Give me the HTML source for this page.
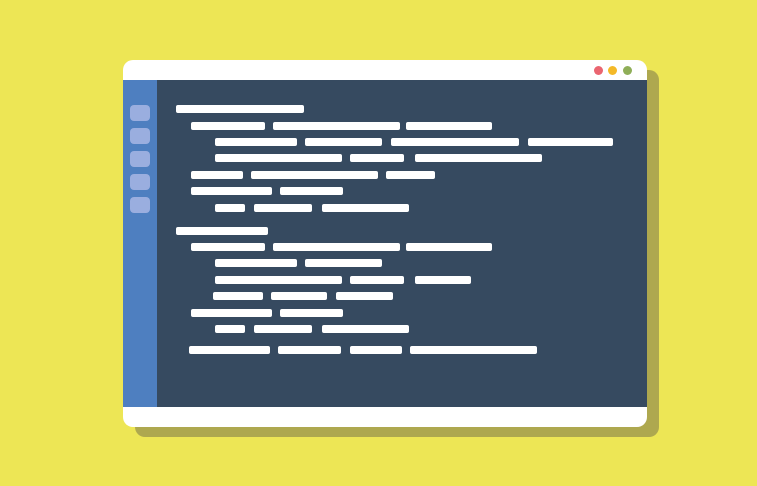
<!DOCTYPE html>
<html><head><style>
html,body{margin:0;padding:0;width:757px;height:486px;overflow:hidden;background:#ede655;}
div{position:absolute;}
.b{height:8px;background:#fff;border-radius:2px;}
.s{left:130px;width:20px;height:16px;background:#9aaedf;border-radius:4px;}
.d{width:9px;height:9px;border-radius:50%;top:66px;}
</style></head><body>
<div style="left:135px;top:70px;width:524px;height:367px;background:#aea84f;border-radius:10px;"></div>
<div style="left:123px;top:60px;width:524px;height:367px;background:#fff;border-radius:10px;overflow:hidden;">
  <div style="left:0;top:20px;width:524px;height:327px;background:#364a60;"></div>
  <div style="left:0;top:20px;width:34px;height:327px;background:#4e7fc0;"></div>
</div>
<div class="d" style="left:594px;background:#ea6570;"></div>
<div class="d" style="left:608px;background:#f4b928;"></div>
<div class="d" style="left:623px;background:#8fae58;"></div>
<div class="s" style="top:105px"></div>
<div class="s" style="top:128px"></div>
<div class="s" style="top:151px"></div>
<div class="s" style="top:174px"></div>
<div class="s" style="top:197px"></div>

<div class="b" style="top:105px;left:176px;width:128px"></div>

<div class="b" style="top:122px;left:191px;width:74px"></div>
<div class="b" style="top:122px;left:273px;width:127px"></div>
<div class="b" style="top:122px;left:406px;width:86px"></div>

<div class="b" style="top:138px;left:215px;width:82px"></div>
<div class="b" style="top:138px;left:305px;width:77px"></div>
<div class="b" style="top:138px;left:391px;width:128px"></div>
<div class="b" style="top:138px;left:528px;width:85px"></div>

<div class="b" style="top:154px;left:215px;width:127px"></div>
<div class="b" style="top:154px;left:350px;width:54px"></div>
<div class="b" style="top:154px;left:415px;width:127px"></div>

<div class="b" style="top:171px;left:191px;width:52px"></div>
<div class="b" style="top:171px;left:251px;width:127px"></div>
<div class="b" style="top:171px;left:386px;width:49px"></div>

<div class="b" style="top:187px;left:191px;width:81px"></div>
<div class="b" style="top:187px;left:280px;width:63px"></div>

<div class="b" style="top:204px;left:215px;width:30px"></div>
<div class="b" style="top:204px;left:254px;width:58px"></div>
<div class="b" style="top:204px;left:322px;width:87px"></div>

<div class="b" style="top:227px;left:176px;width:92px"></div>

<div class="b" style="top:243px;left:191px;width:74px"></div>
<div class="b" style="top:243px;left:273px;width:127px"></div>
<div class="b" style="top:243px;left:406px;width:86px"></div>

<div class="b" style="top:259px;left:215px;width:82px"></div>
<div class="b" style="top:259px;left:305px;width:77px"></div>

<div class="b" style="top:276px;left:215px;width:127px"></div>
<div class="b" style="top:276px;left:350px;width:54px"></div>
<div class="b" style="top:276px;left:415px;width:56px"></div>

<div class="b" style="top:292px;left:213px;width:50px"></div>
<div class="b" style="top:292px;left:271px;width:56px"></div>
<div class="b" style="top:292px;left:336px;width:57px"></div>

<div class="b" style="top:309px;left:191px;width:81px"></div>
<div class="b" style="top:309px;left:280px;width:63px"></div>

<div class="b" style="top:325px;left:215px;width:30px"></div>
<div class="b" style="top:325px;left:254px;width:58px"></div>
<div class="b" style="top:325px;left:322px;width:87px"></div>

<div class="b" style="top:346px;left:189px;width:81px"></div>
<div class="b" style="top:346px;left:278px;width:63px"></div>
<div class="b" style="top:346px;left:350px;width:52px"></div>
<div class="b" style="top:346px;left:410px;width:127px"></div>
</body></html>
